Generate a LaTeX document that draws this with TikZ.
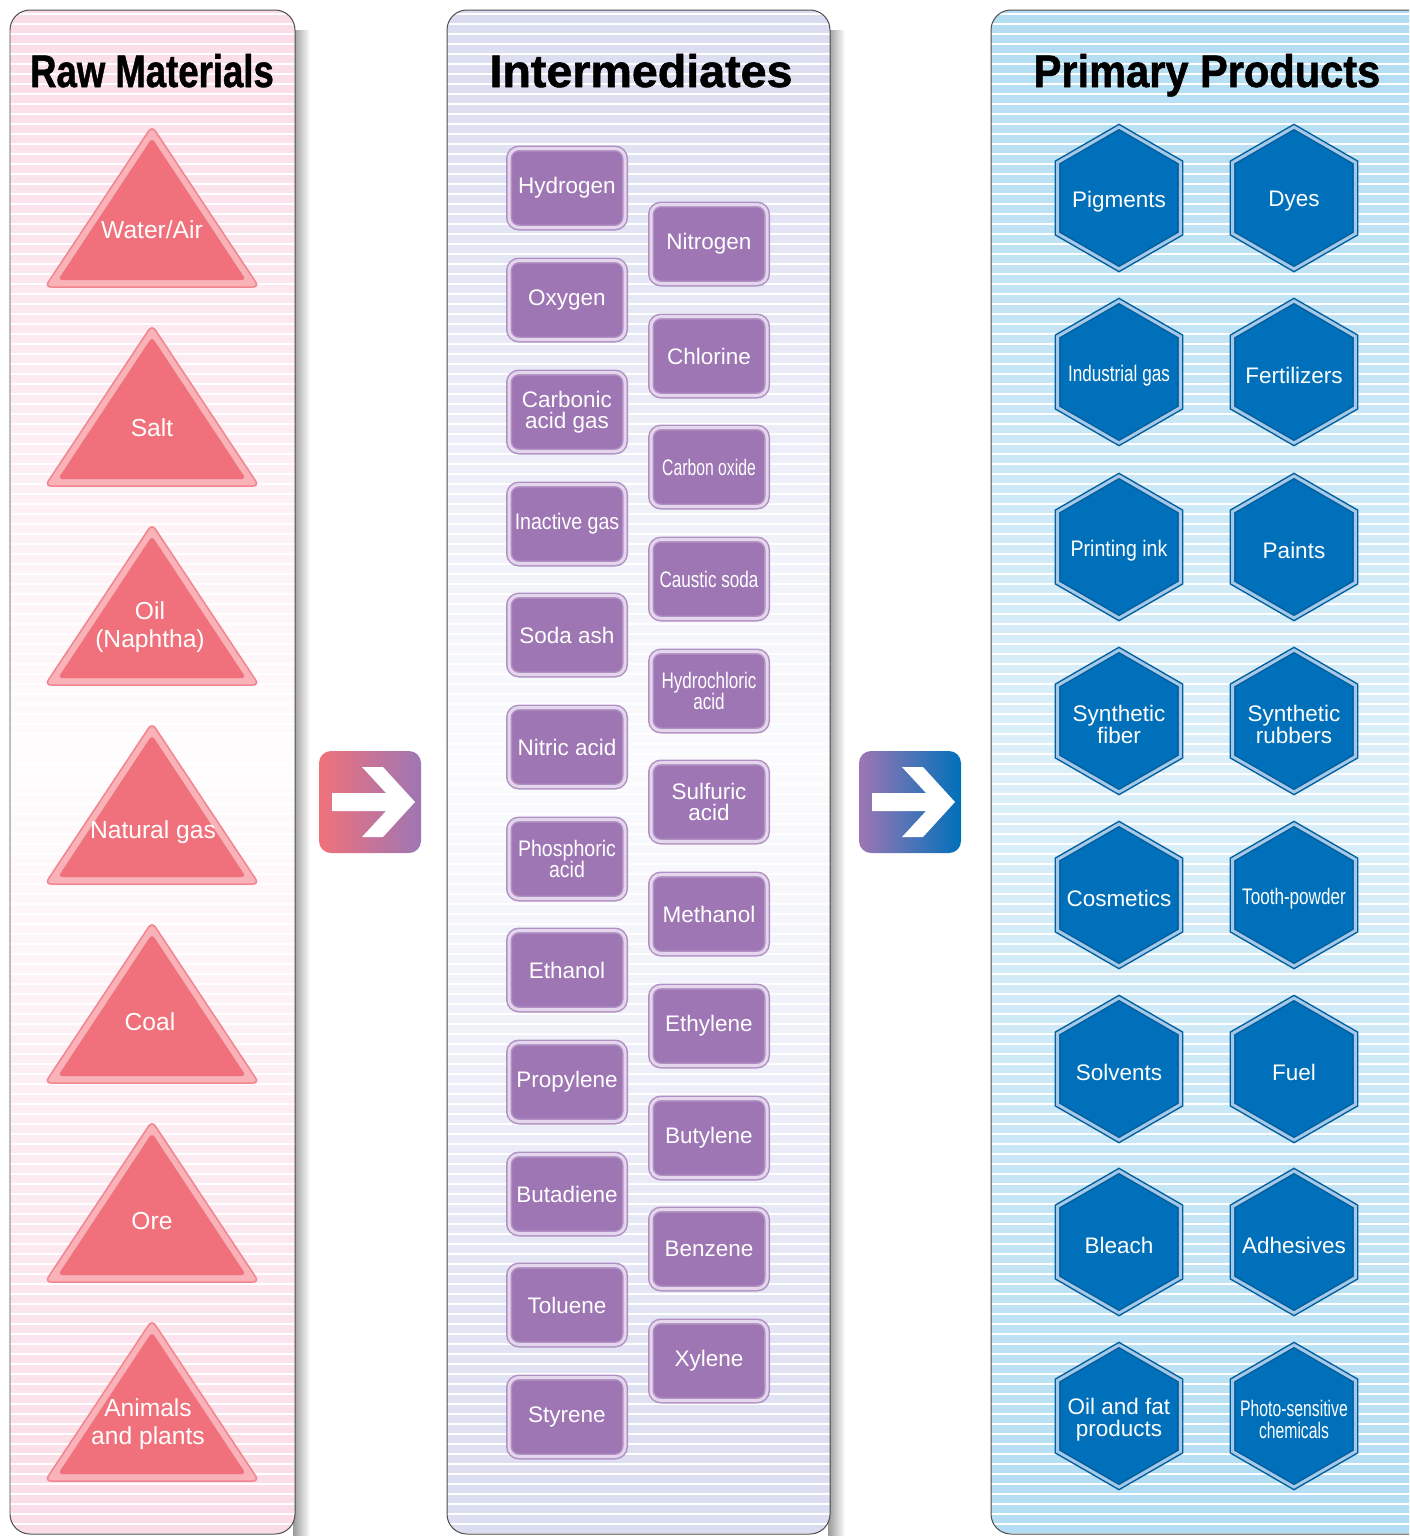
\documentclass[tikz,border=0pt]{standalone}
\usepackage{fontspec}
\usepackage{graphicx}
\usepackage{tikz}
\usepackage{xcolor}
\usetikzlibrary{shapes.geometric}
\setmainfont{Liberation Sans}
\newfontfamily\tightfont[FakeStretch=0.7]{Liberation Sans}
\newfontfamily\condfont[FakeStretch=0.76]{Liberation Sans}
\newfontfamily\narrowfont[FakeStretch=0.87]{Liberation Sans}
\newfontfamily\headfont[BoldFeatures={FakeBold=1.2}]{Liberation Sans}
\definecolor{pinkbg}{HTML}{FADCE7}
\definecolor{lavbg}{HTML}{DADCF0}
\definecolor{bluebg}{HTML}{B3DDF2}
\definecolor{trired}{HTML}{F0717B}
\definecolor{trilight}{HTML}{F8B2B8}
\definecolor{boxpurple}{HTML}{9E76B4}
\definecolor{boxlight}{HTML}{E4D6EC}
\definecolor{hexblue}{HTML}{0070BA}
\definecolor{hexlight}{HTML}{A6C8E8}

\tikzset{
    heading/.style={anchor=base, font=\fontsize{13}{13}\selectfont\headfont\bfseries, text=black, inner sep=0pt},
    raw/.style={text=white, align=center, font=\fontsize{7}{8}\selectfont, inner sep=0pt},
    chem/.style={rectangle, rounded corners=1mm, fill=boxpurple, draw=boxpurple!80!white,
        double=boxlight, double distance=0.3mm, line width=0.15mm,
        minimum width=11.6mm, minimum height=7.9mm, inner sep=0pt,
        text=white, align=center, font=\fontsize{6.4}{6.1}\selectfont},
    prod/.style={regular polygon, regular polygon sides=6, shape border rotate=30,
        fill=hexblue, draw=hexblue!85!black, double=hexlight, double distance=0.3mm, line width=0.15mm,
        minimum size=14.2mm, inner sep=0pt},
    prodtext/.style={text=white, align=center, inner sep=0pt, yshift=-0.35mm, font=\fontsize{6.4}{6.3}\selectfont},
    tight/.style={font=\fontsize{6.4}{6.2}\selectfont\tightfont},
    cond/.style={font=\fontsize{6.4}{6.2}\selectfont\condfont},
    narrow/.style={font=\fontsize{6.4}{6.2}\selectfont\narrowfont},
    gobox/.style={rectangle, rounded corners=1.2mm, minimum width=10.2mm, minimum height=10.2mm, inner sep=0pt}
}

\begin{document}
\begin{tikzpicture}[x=0.1mm, y=-0.1mm]
        \useasboundingbox (0,0) rectangle (1409,1536);
        \clip (0,0) rectangle (1409,1536);

        \shade[left color=black!40, right color=white] (293,30) rectangle (310,1536);
        \shade[left color=black!40, right color=white] (828,30) rectangle (845,1536);

        \begin{scope}
            \clip[rounded corners=2mm] (10,10) rectangle (295,1534);
            \shade[top color=pinkbg, bottom color=pinkbg, middle color=pinkbg!8!white] (10,10) rectangle (295,1534);
            \foreach \y in {14,24,...,1534}
                \draw[white, line width=0.2mm] (10,\y) -- (295,\y);
        \end{scope}
        \begin{scope}
            \clip[rounded corners=2mm] (447,10) rectangle (830,1534);
            \shade[top color=lavbg, bottom color=lavbg, middle color=lavbg!10!white] (447,10) rectangle (830,1534);
            \foreach \y in {14,24,...,1534}
                \draw[white, line width=0.2mm] (447,\y) -- (830,\y);
        \end{scope}
        \begin{scope}
            \clip[rounded corners=2mm] (991,10) rectangle (1440,1534);
            \shade[top color=bluebg, bottom color=bluebg, middle color=bluebg!45!white] (991,10) rectangle (1440,1534);
            \foreach \y in {14,24,...,1534}
                \draw[white, line width=0.2mm] (991,\y) -- (1440,\y);
        \end{scope}
        \draw[black!70, line width=0.1mm, rounded corners=2mm] (10,10) rectangle (295,1534)
            (447,10) rectangle (830,1534)
            (991,10) rectangle (1440,1534);

        \node[heading] (rawtitle) at (152,87) {\scalebox{0.8}[1]{Raw Materials}};
        \node[heading] (midtitle) at (641,87) {\scalebox{1.02}[1]{Intermediates}};
        \node[heading] (prodtitle) at (1207,87) {\scalebox{0.91}[1]{Primary Products}};

        \foreach \k in {0,...,6} {
            \filldraw[fill=trilight, draw=trired!70!trilight, line width=0.15mm, rounded corners=0.6mm]
                (152,126+199*\k) -- (259,287+199*\k) -- (45,287+199*\k) -- cycle;
            \fill[trired, rounded corners=0.4mm]
                (152,138+199*\k) -- (246,280+199*\k) -- (58,280+199*\k) -- cycle;
        }
        \node[raw] (water) at (152,230) {Water/Air};
        \node[raw] (salt) at (152,428) {Salt};
        \node[raw] (oil) at (150,627) {Oil\\(Naphtha)};
        \node[raw] (natgas) at (153,832) {Natural gas};
        \node[raw] (coal) at (150,1022) {Coal};
        \node[raw] (ore) at (152,1221) {Ore};
        \node[raw] (life) at (148,1424) {Animals\\and plants};

        \node[gobox, left color=trired, right color=boxpurple] (go1) at (370,802) {};
        \node[gobox, left color=boxpurple, right color=hexblue] (go2) at (910,802) {};
        \foreach \g in {go1, go2}
            \fill[white, shift={(\g)}] (-38,-9) -- (16,-9) -- (-8,-35) -- (13,-35) -- (45,0)
                -- (13,35) -- (-8,35) -- (16,9) -- (-38,9) -- cycle;

        \node[chem] (hydrogen) at (567,188) {Hydrogen};
        \node[chem] (oxygen) at (567,300) {Oxygen};
        \node[chem] (carbonic) at (567,412) {Carbonic\\acid gas};
        \node[chem, narrow] (inactive) at (567,524) {Inactive gas};
        \node[chem] (sodaash) at (567,635) {Soda ash};
        \node[chem] (nitric) at (567,747) {Nitric acid};
        \node[chem, narrow] (phosph) at (567,859) {Phosphoric\\acid};
        \node[chem] (ethanol) at (567,970) {Ethanol};
        \node[chem] (propylene) at (567,1082) {Propylene};
        \node[chem] (butadiene) at (567,1194) {Butadiene};
        \node[chem] (toluene) at (567,1305) {Toluene};
        \node[chem] (styrene) at (567,1417) {Styrene};
        \node[chem] (nitrogen) at (709,244) {Nitrogen};
        \node[chem] (chlorine) at (709,356) {Chlorine};
        \node[chem, tight] (carbonox) at (709,467) {Carbon oxide};
        \node[chem, cond] (caustic) at (709,579) {Caustic soda};
        \node[chem, cond] (hcl) at (709,691) {Hydrochloric\\acid};
        \node[chem] (sulfuric) at (709,802) {Sulfuric\\acid};
        \node[chem] (methanol) at (709,914) {Methanol};
        \node[chem] (ethylene) at (709,1026) {Ethylene};
        \node[chem] (butylene) at (709,1138) {Butylene};
        \node[chem] (benzene) at (709,1249) {Benzene};
        \node[chem] (xylene) at (709,1361) {Xylene};

        \node[prod, label={[prodtext]center:Pigments}] (pigments) at (1119,198) {};
        \node[prod, label={[prodtext]center:Dyes}] (dyes) at (1294,198) {};
        \node[prod, label={[prodtext, cond]center:Industrial gas}] (indgas) at (1119,372) {};
        \node[prod, label={[prodtext]center:Fertilizers}] (fert) at (1294,372) {};
        \node[prod, label={[prodtext, narrow]center:Printing ink}] (ink) at (1119,547) {};
        \node[prod, label={[prodtext]center:Paints}] (paints) at (1294,547) {};
        \node[prod, label={[prodtext]center:Synthetic\\fiber}] (fiber) at (1119,721) {};
        \node[prod, label={[prodtext]center:Synthetic\\rubbers}] (rubber) at (1294,721) {};
        \node[prod, label={[prodtext]center:Cosmetics}] (cosm) at (1119,895) {};
        \node[prod, label={[prodtext, cond]center:Tooth-powder}] (tooth) at (1294,895) {};
        \node[prod, label={[prodtext]center:Solvents}] (solv) at (1119,1069) {};
        \node[prod, label={[prodtext]center:Fuel}] (fuel) at (1294,1069) {};
        \node[prod, label={[prodtext]center:Bleach}] (bleach) at (1119,1242) {};
        \node[prod, label={[prodtext]center:Adhesives}] (adhes) at (1294,1242) {};
        \node[prod, label={[prodtext]center:Oil and fat\\products}] (oilfat) at (1119,1416) {};
        \node[prod, label={[prodtext, tight]center:Photo-sensitive\\chemicals}] (photo) at (1294,1416) {};
\end{tikzpicture}
\end{document}
